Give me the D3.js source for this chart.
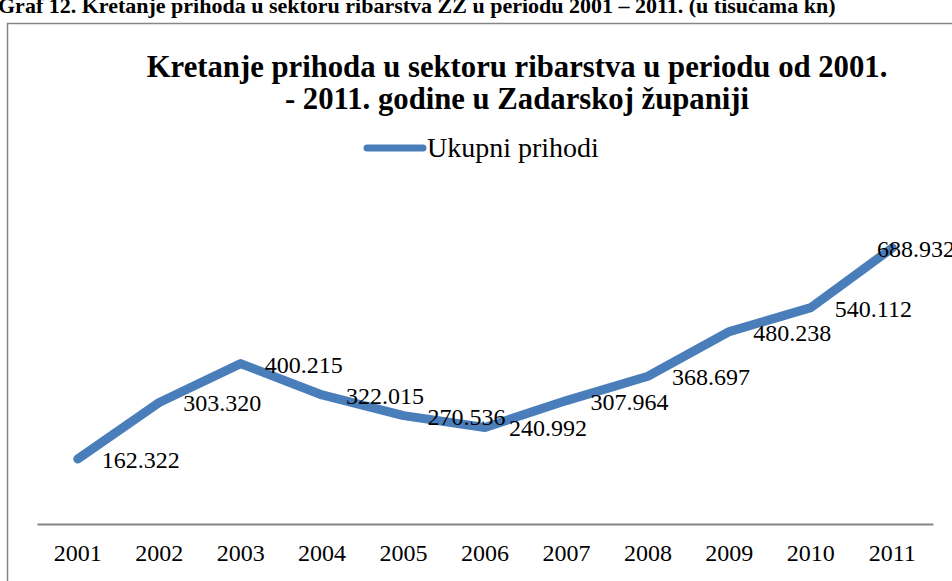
<!DOCTYPE html>
<html>
<head>
<meta charset="utf-8">
<script src="https://cdn.jsdelivr.net/npm/d3@7"></script>
<style>
  html, body { margin: 0; padding: 0; background: #fff; overflow: hidden; }
  svg { display: block; }
</style>
</head>
<body>
<script>
// Prihodi u sektoru ribarstva, Zadarska županija (u tisućama kn)
const years = ["2001", "2002", "2003", "2004", "2005", "2006", "2007", "2008", "2009", "2010", "2011"];
const prihodi = [162.322, 303.320, 400.215, 322.015, 270.536, 240.992, 307.964, 368.697, 480.238, 540.112, 688.932];
const seriesName = "Ukupni prihodi";
const titleLines = ["Kretanje prihoda u sektoru ribarstva u periodu od 2001.", "- 2011. godine u Zadarskoj županiji"];
const captionText = "Graf 12. Kretanje prihoda u sektoru ribarstva ZŽ u periodu 2001 – 2011. (u tisućama kn)";

const W = 952, H = 581;
const serif = "'Liberation Serif', 'Times New Roman', serif";
const blue = "#4a7ebb";
const fmt = v => v.toFixed(3);

const svg = d3.select("body").append("svg")
  .attr("width", W).attr("height", H);

// document caption above the chart frame (runs off the top edge)
svg.append("text")
  .attr("x", -2).attr("y", 13)
  .attr("font-family", serif).attr("font-weight", "bold")
  .attr("font-size", 22).attr("fill", "#000")
  .text(captionText);

// chart frame
svg.append("rect")
  .attr("x", 7.5).attr("y", 23.5)
  .attr("width", W + 20).attr("height", H + 20)
  .attr("fill", "#fff").attr("stroke", "#868686").attr("stroke-width", 1.5);

// title, fitted to its line width
const titleG = svg.append("g");
const titleSize = 30;
titleLines.forEach((line, i) => {
  titleG.append("text")
    .attr("x", 517).attr("y", 77 + i * 32)
    .attr("text-anchor", "middle")
    .attr("font-family", serif).attr("font-weight", "bold")
    .attr("font-size", titleSize).attr("fill", "#000")
    .text(line);
});
// scale both lines by the same factor so the first spans ~741px
const firstLen = titleG.select("text").node().getComputedTextLength();
const fitSize = titleSize * 741 / firstLen;
titleG.selectAll("text").attr("font-size", fitSize);

// scales
const x = d3.scaleBand().domain(years).range([37, 933]);
const y = d3.scaleLinear().domain([0, 800]).range([524, 524 - 800 * 0.4007]);
const cx = d => x(d) + x.bandwidth() / 2;

// legend
const lg = svg.append("g");
lg.append("line")
  .attr("x1", 367).attr("x2", 423).attr("y1", 148).attr("y2", 148)
  .attr("stroke", blue).attr("stroke-width", 7).attr("stroke-linecap", "round");
lg.append("text")
  .attr("x", 427).attr("y", 157)
  .attr("font-family", serif).attr("font-size", 28).attr("fill", "#000")
  .text(seriesName);

// category axis
const axis = svg.append("g")
  .attr("transform", `translate(0,${y(0)})`)
  .call(d3.axisBottom(x).tickSize(0).tickPadding(20));
axis.select(".domain").attr("stroke", "#868686").attr("stroke-width", 2);
axis.selectAll(".tick text")
  .attr("font-family", serif).attr("font-size", 24).attr("fill", "#000")
  .attr("dy", "0.71em");

// revenue line
const data = years.map((yr, i) => ({ year: yr, value: prihodi[i] }));
svg.append("path")
  .datum(data)
  .attr("fill", "none")
  .attr("stroke", blue).attr("stroke-width", 9)
  .attr("stroke-linejoin", "round").attr("stroke-linecap", "round")
  .attr("d", d3.line().x(d => cx(d.year)).y(d => y(d.value)));

// value labels, right of each point, kept inside the chart's right edge
const rightLimit = 955;
svg.append("g").selectAll("text")
  .data(data)
  .join("text")
  .attr("font-family", serif).attr("font-size", 24).attr("fill", "#000")
  .attr("y", d => y(d.value) + 9)
  .text(d => fmt(d.value))
  .attr("x", function (d) {
    const w = this.getComputedTextLength();
    return Math.min(cx(d.year) + 24, rightLimit - w);
  });
</script>
</body>
</html>
